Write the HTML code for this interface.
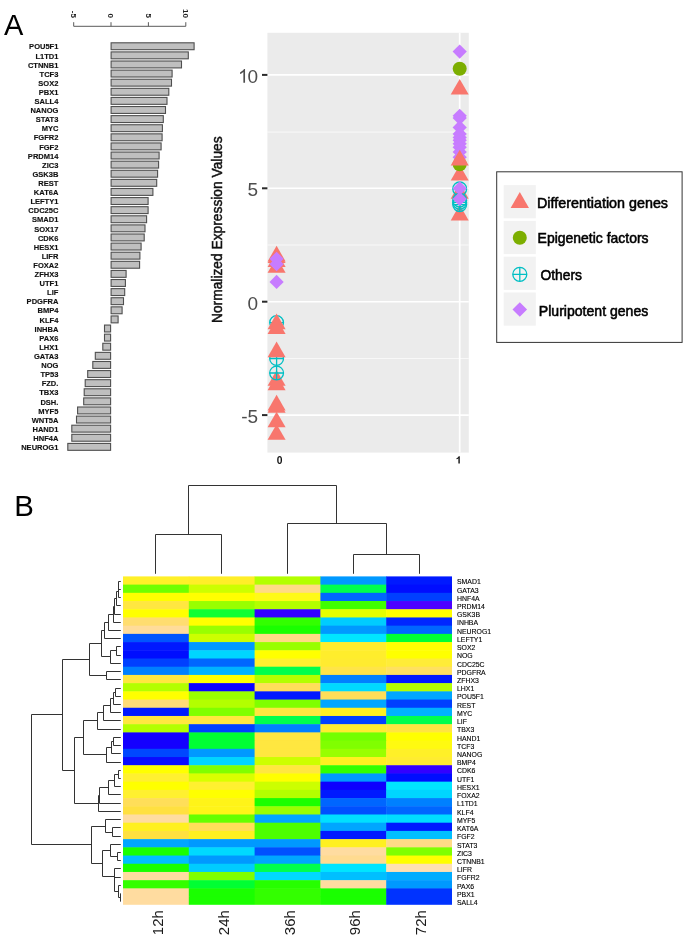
<!DOCTYPE html>
<html><head><meta charset="utf-8"><title>Figure</title>
<style>html,body{margin:0;padding:0;background:#fff}svg{display:block;will-change:transform}text{font-family:"Liberation Sans", sans-serif}</style>
</head><body>
<svg width="685" height="942" viewBox="0 0 685 942" font-family='"Liberation Sans", sans-serif'>
<rect width="685" height="942" fill="#fff"/>
<text x="3.9" y="35" font-size="29" fill="#000">A</text>
<text x="14.2" y="515.8" font-size="29.4" fill="#000">B</text>
<g id="bars">
<path d="M73.7 26.3H185.8 M73.7 26.3V22.2 M111 26.3V22.2 M148.4 26.3V22.2 M185.8 26.3V22.2" stroke="#5a5a5a" stroke-width="1" fill="none"/>
<text transform="translate(70.8 17.9) rotate(90)" text-anchor="end" font-size="8" font-weight="bold" fill="#222">-5</text>
<text transform="translate(108.1 17.9) rotate(90)" text-anchor="end" font-size="8" font-weight="bold" fill="#222">0</text>
<text transform="translate(145.5 17.9) rotate(90)" text-anchor="end" font-size="8" font-weight="bold" fill="#222">5</text>
<text transform="translate(182.9 17.9) rotate(90)" text-anchor="end" font-size="8" font-weight="bold" fill="#222">10</text>
<rect x="111.10" y="42.80" width="83.00" height="6.90" fill="#BFBFBF" stroke="#4f4f4f" stroke-width="1.1"/>
<text transform="translate(58.4 49.40) scale(0.93 1)" text-anchor="end" font-size="8.1" font-weight="bold" fill="#111" stroke="#111" stroke-width="0.15">POU5F1</text>
<rect x="111.10" y="51.91" width="77.20" height="6.90" fill="#BFBFBF" stroke="#4f4f4f" stroke-width="1.1"/>
<text transform="translate(58.4 58.51) scale(0.93 1)" text-anchor="end" font-size="8.1" font-weight="bold" fill="#111" stroke="#111" stroke-width="0.15">L1TD1</text>
<rect x="111.10" y="61.01" width="70.40" height="6.90" fill="#BFBFBF" stroke="#4f4f4f" stroke-width="1.1"/>
<text transform="translate(58.4 67.61) scale(0.93 1)" text-anchor="end" font-size="8.1" font-weight="bold" fill="#111" stroke="#111" stroke-width="0.15">CTNNB1</text>
<rect x="111.10" y="70.11" width="61.00" height="6.90" fill="#BFBFBF" stroke="#4f4f4f" stroke-width="1.1"/>
<text transform="translate(58.4 76.71) scale(0.93 1)" text-anchor="end" font-size="8.1" font-weight="bold" fill="#111" stroke="#111" stroke-width="0.15">TCF3</text>
<rect x="111.10" y="79.22" width="60.40" height="6.90" fill="#BFBFBF" stroke="#4f4f4f" stroke-width="1.1"/>
<text transform="translate(58.4 85.82) scale(0.93 1)" text-anchor="end" font-size="8.1" font-weight="bold" fill="#111" stroke="#111" stroke-width="0.15">SOX2</text>
<rect x="111.10" y="88.33" width="57.70" height="6.90" fill="#BFBFBF" stroke="#4f4f4f" stroke-width="1.1"/>
<text transform="translate(58.4 94.92) scale(0.93 1)" text-anchor="end" font-size="8.1" font-weight="bold" fill="#111" stroke="#111" stroke-width="0.15">PBX1</text>
<rect x="111.10" y="97.43" width="55.90" height="6.90" fill="#BFBFBF" stroke="#4f4f4f" stroke-width="1.1"/>
<text transform="translate(58.4 104.03) scale(0.93 1)" text-anchor="end" font-size="8.1" font-weight="bold" fill="#111" stroke="#111" stroke-width="0.15">SALL4</text>
<rect x="111.10" y="106.53" width="54.40" height="6.90" fill="#BFBFBF" stroke="#4f4f4f" stroke-width="1.1"/>
<text transform="translate(58.4 113.13) scale(0.93 1)" text-anchor="end" font-size="8.1" font-weight="bold" fill="#111" stroke="#111" stroke-width="0.15">NANOG</text>
<rect x="111.10" y="115.64" width="52.20" height="6.90" fill="#BFBFBF" stroke="#4f4f4f" stroke-width="1.1"/>
<text transform="translate(58.4 122.24) scale(0.93 1)" text-anchor="end" font-size="8.1" font-weight="bold" fill="#111" stroke="#111" stroke-width="0.15">STAT3</text>
<rect x="111.10" y="124.75" width="51.30" height="6.90" fill="#BFBFBF" stroke="#4f4f4f" stroke-width="1.1"/>
<text transform="translate(58.4 131.34) scale(0.93 1)" text-anchor="end" font-size="8.1" font-weight="bold" fill="#111" stroke="#111" stroke-width="0.15">MYC</text>
<rect x="111.10" y="133.85" width="51.00" height="6.90" fill="#BFBFBF" stroke="#4f4f4f" stroke-width="1.1"/>
<text transform="translate(58.4 140.45) scale(0.93 1)" text-anchor="end" font-size="8.1" font-weight="bold" fill="#111" stroke="#111" stroke-width="0.15">FGFR2</text>
<rect x="111.10" y="142.95" width="50.00" height="6.90" fill="#BFBFBF" stroke="#4f4f4f" stroke-width="1.1"/>
<text transform="translate(58.4 149.55) scale(0.93 1)" text-anchor="end" font-size="8.1" font-weight="bold" fill="#111" stroke="#111" stroke-width="0.15">FGF2</text>
<rect x="111.10" y="152.06" width="48.00" height="6.90" fill="#BFBFBF" stroke="#4f4f4f" stroke-width="1.1"/>
<text transform="translate(58.4 158.66) scale(0.93 1)" text-anchor="end" font-size="8.1" font-weight="bold" fill="#111" stroke="#111" stroke-width="0.15">PRDM14</text>
<rect x="111.10" y="161.17" width="47.50" height="6.90" fill="#BFBFBF" stroke="#4f4f4f" stroke-width="1.1"/>
<text transform="translate(58.4 167.77) scale(0.93 1)" text-anchor="end" font-size="8.1" font-weight="bold" fill="#111" stroke="#111" stroke-width="0.15">ZIC3</text>
<rect x="111.10" y="170.27" width="46.50" height="6.90" fill="#BFBFBF" stroke="#4f4f4f" stroke-width="1.1"/>
<text transform="translate(58.4 176.87) scale(0.93 1)" text-anchor="end" font-size="8.1" font-weight="bold" fill="#111" stroke="#111" stroke-width="0.15">GSK3B</text>
<rect x="111.10" y="179.38" width="45.60" height="6.90" fill="#BFBFBF" stroke="#4f4f4f" stroke-width="1.1"/>
<text transform="translate(58.4 185.97) scale(0.93 1)" text-anchor="end" font-size="8.1" font-weight="bold" fill="#111" stroke="#111" stroke-width="0.15">REST</text>
<rect x="111.10" y="188.48" width="41.80" height="6.90" fill="#BFBFBF" stroke="#4f4f4f" stroke-width="1.1"/>
<text transform="translate(58.4 195.08) scale(0.93 1)" text-anchor="end" font-size="8.1" font-weight="bold" fill="#111" stroke="#111" stroke-width="0.15">KAT6A</text>
<rect x="111.10" y="197.58" width="37.00" height="6.90" fill="#BFBFBF" stroke="#4f4f4f" stroke-width="1.1"/>
<text transform="translate(58.4 204.18) scale(0.93 1)" text-anchor="end" font-size="8.1" font-weight="bold" fill="#111" stroke="#111" stroke-width="0.15">LEFTY1</text>
<rect x="111.10" y="206.69" width="37.00" height="6.90" fill="#BFBFBF" stroke="#4f4f4f" stroke-width="1.1"/>
<text transform="translate(58.4 213.29) scale(0.93 1)" text-anchor="end" font-size="8.1" font-weight="bold" fill="#111" stroke="#111" stroke-width="0.15">CDC25C</text>
<rect x="111.10" y="215.80" width="35.50" height="6.90" fill="#BFBFBF" stroke="#4f4f4f" stroke-width="1.1"/>
<text transform="translate(58.4 222.40) scale(0.93 1)" text-anchor="end" font-size="8.1" font-weight="bold" fill="#111" stroke="#111" stroke-width="0.15">SMAD1</text>
<rect x="111.10" y="224.90" width="33.90" height="6.90" fill="#BFBFBF" stroke="#4f4f4f" stroke-width="1.1"/>
<text transform="translate(58.4 231.50) scale(0.93 1)" text-anchor="end" font-size="8.1" font-weight="bold" fill="#111" stroke="#111" stroke-width="0.15">SOX17</text>
<rect x="111.10" y="234.00" width="33.10" height="6.90" fill="#BFBFBF" stroke="#4f4f4f" stroke-width="1.1"/>
<text transform="translate(58.4 240.60) scale(0.93 1)" text-anchor="end" font-size="8.1" font-weight="bold" fill="#111" stroke="#111" stroke-width="0.15">CDK6</text>
<rect x="111.10" y="243.11" width="30.00" height="6.90" fill="#BFBFBF" stroke="#4f4f4f" stroke-width="1.1"/>
<text transform="translate(58.4 249.71) scale(0.93 1)" text-anchor="end" font-size="8.1" font-weight="bold" fill="#111" stroke="#111" stroke-width="0.15">HESX1</text>
<rect x="111.10" y="252.22" width="28.80" height="6.90" fill="#BFBFBF" stroke="#4f4f4f" stroke-width="1.1"/>
<text transform="translate(58.4 258.82) scale(0.93 1)" text-anchor="end" font-size="8.1" font-weight="bold" fill="#111" stroke="#111" stroke-width="0.15">LIFR</text>
<rect x="111.10" y="261.32" width="28.50" height="6.90" fill="#BFBFBF" stroke="#4f4f4f" stroke-width="1.1"/>
<text transform="translate(58.4 267.92) scale(0.93 1)" text-anchor="end" font-size="8.1" font-weight="bold" fill="#111" stroke="#111" stroke-width="0.15">FOXA2</text>
<rect x="111.10" y="270.43" width="15.00" height="6.90" fill="#BFBFBF" stroke="#4f4f4f" stroke-width="1.1"/>
<text transform="translate(58.4 277.03) scale(0.93 1)" text-anchor="end" font-size="8.1" font-weight="bold" fill="#111" stroke="#111" stroke-width="0.15">ZFHX3</text>
<rect x="111.10" y="279.53" width="14.30" height="6.90" fill="#BFBFBF" stroke="#4f4f4f" stroke-width="1.1"/>
<text transform="translate(58.4 286.13) scale(0.93 1)" text-anchor="end" font-size="8.1" font-weight="bold" fill="#111" stroke="#111" stroke-width="0.15">UTF1</text>
<rect x="111.10" y="288.63" width="13.60" height="6.90" fill="#BFBFBF" stroke="#4f4f4f" stroke-width="1.1"/>
<text transform="translate(58.4 295.24) scale(0.93 1)" text-anchor="end" font-size="8.1" font-weight="bold" fill="#111" stroke="#111" stroke-width="0.15">LIF</text>
<rect x="111.10" y="297.74" width="12.40" height="6.90" fill="#BFBFBF" stroke="#4f4f4f" stroke-width="1.1"/>
<text transform="translate(58.4 304.34) scale(0.93 1)" text-anchor="end" font-size="8.1" font-weight="bold" fill="#111" stroke="#111" stroke-width="0.15">PDGFRA</text>
<rect x="111.10" y="306.85" width="11.00" height="6.90" fill="#BFBFBF" stroke="#4f4f4f" stroke-width="1.1"/>
<text transform="translate(58.4 313.45) scale(0.93 1)" text-anchor="end" font-size="8.1" font-weight="bold" fill="#111" stroke="#111" stroke-width="0.15">BMP4</text>
<rect x="111.10" y="315.95" width="7.00" height="6.90" fill="#BFBFBF" stroke="#4f4f4f" stroke-width="1.1"/>
<text transform="translate(58.4 322.55) scale(0.93 1)" text-anchor="end" font-size="8.1" font-weight="bold" fill="#111" stroke="#111" stroke-width="0.15">KLF4</text>
<rect x="104.50" y="325.06" width="6.10" height="6.90" fill="#BFBFBF" stroke="#4f4f4f" stroke-width="1.1"/>
<text transform="translate(58.4 331.66) scale(0.93 1)" text-anchor="end" font-size="8.1" font-weight="bold" fill="#111" stroke="#111" stroke-width="0.15">INHBA</text>
<rect x="104.50" y="334.16" width="6.10" height="6.90" fill="#BFBFBF" stroke="#4f4f4f" stroke-width="1.1"/>
<text transform="translate(58.4 340.76) scale(0.93 1)" text-anchor="end" font-size="8.1" font-weight="bold" fill="#111" stroke="#111" stroke-width="0.15">PAX6</text>
<rect x="102.80" y="343.27" width="7.80" height="6.90" fill="#BFBFBF" stroke="#4f4f4f" stroke-width="1.1"/>
<text transform="translate(58.4 349.87) scale(0.93 1)" text-anchor="end" font-size="8.1" font-weight="bold" fill="#111" stroke="#111" stroke-width="0.15">LHX1</text>
<rect x="95.30" y="352.37" width="15.30" height="6.90" fill="#BFBFBF" stroke="#4f4f4f" stroke-width="1.1"/>
<text transform="translate(58.4 358.97) scale(0.93 1)" text-anchor="end" font-size="8.1" font-weight="bold" fill="#111" stroke="#111" stroke-width="0.15">GATA3</text>
<rect x="92.80" y="361.48" width="17.80" height="6.90" fill="#BFBFBF" stroke="#4f4f4f" stroke-width="1.1"/>
<text transform="translate(58.4 368.08) scale(0.93 1)" text-anchor="end" font-size="8.1" font-weight="bold" fill="#111" stroke="#111" stroke-width="0.15">NOG</text>
<rect x="87.70" y="370.58" width="22.90" height="6.90" fill="#BFBFBF" stroke="#4f4f4f" stroke-width="1.1"/>
<text transform="translate(58.4 377.18) scale(0.93 1)" text-anchor="end" font-size="8.1" font-weight="bold" fill="#111" stroke="#111" stroke-width="0.15">TP53</text>
<rect x="85.20" y="379.69" width="25.40" height="6.90" fill="#BFBFBF" stroke="#4f4f4f" stroke-width="1.1"/>
<text transform="translate(58.4 386.29) scale(0.93 1)" text-anchor="end" font-size="8.1" font-weight="bold" fill="#111" stroke="#111" stroke-width="0.15">FZD.</text>
<rect x="84.20" y="388.79" width="26.40" height="6.90" fill="#BFBFBF" stroke="#4f4f4f" stroke-width="1.1"/>
<text transform="translate(58.4 395.39) scale(0.93 1)" text-anchor="end" font-size="8.1" font-weight="bold" fill="#111" stroke="#111" stroke-width="0.15">TBX3</text>
<rect x="83.70" y="397.90" width="26.90" height="6.90" fill="#BFBFBF" stroke="#4f4f4f" stroke-width="1.1"/>
<text transform="translate(58.4 404.50) scale(0.93 1)" text-anchor="end" font-size="8.1" font-weight="bold" fill="#111" stroke="#111" stroke-width="0.15">DSH.</text>
<rect x="77.60" y="407.00" width="33.00" height="6.90" fill="#BFBFBF" stroke="#4f4f4f" stroke-width="1.1"/>
<text transform="translate(58.4 413.60) scale(0.93 1)" text-anchor="end" font-size="8.1" font-weight="bold" fill="#111" stroke="#111" stroke-width="0.15">MYF5</text>
<rect x="76.50" y="416.11" width="34.10" height="6.90" fill="#BFBFBF" stroke="#4f4f4f" stroke-width="1.1"/>
<text transform="translate(58.4 422.71) scale(0.93 1)" text-anchor="end" font-size="8.1" font-weight="bold" fill="#111" stroke="#111" stroke-width="0.15">WNT5A</text>
<rect x="71.80" y="425.21" width="38.80" height="6.90" fill="#BFBFBF" stroke="#4f4f4f" stroke-width="1.1"/>
<text transform="translate(58.4 431.81) scale(0.93 1)" text-anchor="end" font-size="8.1" font-weight="bold" fill="#111" stroke="#111" stroke-width="0.15">HAND1</text>
<rect x="71.80" y="434.32" width="38.80" height="6.90" fill="#BFBFBF" stroke="#4f4f4f" stroke-width="1.1"/>
<text transform="translate(58.4 440.92) scale(0.93 1)" text-anchor="end" font-size="8.1" font-weight="bold" fill="#111" stroke="#111" stroke-width="0.15">HNF4A</text>
<rect x="67.80" y="443.42" width="42.80" height="6.90" fill="#BFBFBF" stroke="#4f4f4f" stroke-width="1.1"/>
<text transform="translate(58.4 450.02) scale(0.93 1)" text-anchor="end" font-size="8.1" font-weight="bold" fill="#111" stroke="#111" stroke-width="0.15">NEUROG1</text>
</g>
<g id="scatter">
<rect x="267.4" y="32.8" width="201.40" height="419.80" fill="#EBEBEB"/>
<path d="M267.4 132.05H468.8" stroke="#fff" stroke-width="0.8" opacity="0.9"/>
<path d="M267.4 245.00H468.8" stroke="#fff" stroke-width="0.8" opacity="0.9"/>
<path d="M267.4 358.40H468.8" stroke="#fff" stroke-width="0.8" opacity="0.9"/>
<path d="M267.4 74.90H468.8" stroke="#fff" stroke-width="1.6"/>
<path d="M267.4 188.30H468.8" stroke="#fff" stroke-width="1.6"/>
<path d="M267.4 301.70H468.8" stroke="#fff" stroke-width="1.6"/>
<path d="M267.4 415.10H468.8" stroke="#fff" stroke-width="1.6"/>
<path d="M459.7 32.8V452.6" stroke="#fff" stroke-width="1.7"/>
<path d="M262.0 74.90H267.4" stroke="#2a2a2a" stroke-width="2"/>
<text x="258.2" y="82.70" text-anchor="end" font-size="19" fill="#4D4D4D">0</text>
<path d="M245.04 82.70L243.37 82.70L243.37 72.06Q242.77 72.63 241.79 73.21Q240.81 73.78 240.04 74.07L240.04 72.46Q241.44 71.80 242.48 70.86Q243.53 69.93 243.97 69.04L245.04 69.04Z" fill="#4D4D4D"/>
<path d="M262.0 188.30H267.4" stroke="#2a2a2a" stroke-width="2"/>
<text x="258.2" y="196.10" text-anchor="end" font-size="19" fill="#4D4D4D">5</text>
<path d="M262.0 301.70H267.4" stroke="#2a2a2a" stroke-width="2"/>
<text x="258.2" y="309.50" text-anchor="end" font-size="19" fill="#4D4D4D">0</text>
<path d="M262.0 415.10H267.4" stroke="#2a2a2a" stroke-width="2"/>
<text x="258.2" y="422.90" text-anchor="end" font-size="19" fill="#4D4D4D">-5</text>
<text x="279.6" y="463.6" text-anchor="middle" font-size="10.3" font-weight="bold" fill="#111">0</text>
<path d="M459.79 463.60L458.38 463.60L458.38 458.27Q457.60 459.00 456.55 459.35L456.55 458.06Q457.10 457.88 457.75 457.38Q458.40 456.87 458.64 456.20L459.79 456.20Z" fill="#111"/>
<text transform="translate(221.8 323.0) rotate(-90)" font-size="14.2" fill="#111" stroke="#111" stroke-width="0.5" textLength="186.6" lengthAdjust="spacingAndGlyphs">Normalized Expression Values</text>
<g stroke="#00BFC4" stroke-width="1.3" fill="none"><circle cx="276.60" cy="322.60" r="6.9"/><path d="M269.70 322.60H283.50M276.60 315.70V329.50"/></g>
<path d="M276.60 313.60L285.61 329.20L267.59 329.20Z" fill="#F8766D"/>
<path d="M276.60 318.30L285.61 333.90L267.59 333.90Z" fill="#F8766D"/>
<g stroke="#00BFC4" stroke-width="1.3" fill="none"><circle cx="276.60" cy="358.50" r="6.9"/><path d="M269.70 358.50H283.50M276.60 351.60V365.40"/></g>
<path d="M276.60 341.60L285.61 357.20L267.59 357.20Z" fill="#F8766D"/>
<path d="M276.60 370.20L285.61 385.80L267.59 385.80Z" fill="#F8766D"/>
<path d="M276.60 374.60L285.61 390.20L267.59 390.20Z" fill="#F8766D"/>
<g stroke="#00BFC4" stroke-width="1.3" fill="none"><circle cx="276.60" cy="373.00" r="6.9"/><path d="M269.70 373.00H283.50M276.60 366.10V379.90"/></g>
<path d="M276.60 394.80L285.61 410.40L267.59 410.40Z" fill="#F8766D"/>
<path d="M276.60 397.10L285.61 412.70L267.59 412.70Z" fill="#F8766D"/>
<path d="M276.60 411.70L285.61 427.30L267.59 427.30Z" fill="#F8766D"/>
<path d="M276.60 424.20L285.61 439.80L267.59 439.80Z" fill="#F8766D"/>
<path d="M276.60 245.80L285.61 261.40L267.59 261.40Z" fill="#F8766D"/>
<path d="M276.60 247.40L285.61 263.00L267.59 263.00Z" fill="#F8766D"/>
<path d="M276.60 251.30L285.61 266.90L267.59 266.90Z" fill="#F8766D"/>
<path d="M276.60 257.20L285.61 272.80L267.59 272.80Z" fill="#F8766D"/>
<path d="M276.60 251.70L283.70 258.80L276.60 265.90L269.50 258.80Z" fill="#C77CFF"/>
<path d="M276.60 257.10L283.70 264.20L276.60 271.30L269.50 264.20Z" fill="#C77CFF"/>
<path d="M276.60 274.80L283.70 281.90L276.60 289.00L269.50 281.90Z" fill="#C77CFF"/>
<path d="M459.70 44.50L466.80 51.60L459.70 58.70L452.60 51.60Z" fill="#C77CFF"/>
<circle cx="459.70" cy="68.80" r="7.0" fill="#7CAE00"/>
<path d="M459.70 79.00L468.71 94.60L450.69 94.60Z" fill="#F8766D"/>
<path d="M459.70 204.80L468.71 220.40L450.69 220.40Z" fill="#F8766D"/>
<path d="M459.70 183.10L468.71 198.70L450.69 198.70Z" fill="#F8766D"/>
<g stroke="#00BFC4" stroke-width="1.3" fill="none"><circle cx="459.70" cy="188.90" r="6.9"/><path d="M452.80 188.90H466.60M459.70 182.00V195.80"/></g>
<g stroke="#00BFC4" stroke-width="1.3" fill="none"><circle cx="459.70" cy="200.20" r="6.9"/><path d="M452.80 200.20H466.60M459.70 193.30V207.10"/></g>
<g stroke="#00BFC4" stroke-width="1.3" fill="none"><circle cx="459.70" cy="202.40" r="6.9"/><path d="M452.80 202.40H466.60M459.70 195.50V209.30"/></g>
<g stroke="#00BFC4" stroke-width="1.3" fill="none"><circle cx="459.70" cy="204.60" r="6.9"/><path d="M452.80 204.60H466.60M459.70 197.70V211.50"/></g>
<path d="M459.70 181.30L466.80 188.40L459.70 195.50L452.60 188.40Z" fill="#C77CFF"/>
<path d="M459.70 191.80L466.80 198.90L459.70 206.00L452.60 198.90Z" fill="#C77CFF"/>
<path d="M459.70 165.00L468.71 180.60L450.69 180.60Z" fill="#F8766D"/>
<circle cx="459.70" cy="164.20" r="7.0" fill="#7CAE00"/>
<path d="M459.70 108.70L466.80 115.80L459.70 122.90L452.60 115.80Z" fill="#C77CFF"/>
<path d="M459.70 111.00L466.80 118.10L459.70 125.20L452.60 118.10Z" fill="#C77CFF"/>
<path d="M459.70 120.30L466.80 127.40L459.70 134.50L452.60 127.40Z" fill="#C77CFF"/>
<path d="M459.70 126.80L466.80 133.90L459.70 141.00L452.60 133.90Z" fill="#C77CFF"/>
<path d="M459.70 130.30L466.80 137.40L459.70 144.50L452.60 137.40Z" fill="#C77CFF"/>
<path d="M459.70 133.20L466.80 140.30L459.70 147.40L452.60 140.30Z" fill="#C77CFF"/>
<path d="M459.70 136.70L466.80 143.80L459.70 150.90L452.60 143.80Z" fill="#C77CFF"/>
<path d="M459.70 140.20L466.80 147.30L459.70 154.40L452.60 147.30Z" fill="#C77CFF"/>
<path d="M459.70 144.90L466.80 152.00L459.70 159.10L452.60 152.00Z" fill="#C77CFF"/>
<path d="M459.70 150.10L466.80 157.20L459.70 164.30L452.60 157.20Z" fill="#C77CFF"/>
<path d="M459.70 149.80L468.71 165.40L450.69 165.40Z" fill="#F8766D"/>
</g>
<g id="legend">
<rect x="496.7" y="171.8" width="185.4" height="170.6" fill="#fff" stroke="#333" stroke-width="1"/>
<rect x="503.7" y="185.1" width="32.1" height="33.2" fill="#F2F2F2"/>
<rect x="503.7" y="220.9" width="32.1" height="33.2" fill="#F2F2F2"/>
<rect x="503.7" y="256.7" width="32.1" height="33.2" fill="#F2F2F2"/>
<rect x="503.7" y="292.5" width="32.1" height="33.2" fill="#F2F2F2"/>
<path d="M519.80 192.00L528.98 207.90L510.62 207.90Z" fill="#F8766D"/>
<circle cx="519.80" cy="237.70" r="7.0" fill="#7CAE00"/>
<g stroke="#00BFC4" stroke-width="1.3" fill="none"><circle cx="519.80" cy="274.30" r="7.0"/><path d="M512.80 274.30H526.80M519.80 267.30V281.30"/></g>
<path d="M519.80 302.20L527.10 309.50L519.80 316.80L512.50 309.50Z" fill="#C77CFF"/>
<text x="537.0" y="207.9" font-size="14.3" fill="#000" stroke="#000" stroke-width="0.55" textLength="131.0" lengthAdjust="spacingAndGlyphs">Differentiation genes</text>
<text x="537.6" y="243.4" font-size="14.3" fill="#000" stroke="#000" stroke-width="0.55" textLength="111.0" lengthAdjust="spacingAndGlyphs">Epigenetic factors</text>
<text x="540.4" y="279.6" font-size="14.3" fill="#000" stroke="#000" stroke-width="0.55" textLength="41.6" lengthAdjust="spacingAndGlyphs">Others</text>
<text x="538.8" y="316.0" font-size="14.3" fill="#000" stroke="#000" stroke-width="0.55" textLength="109.5" lengthAdjust="spacingAndGlyphs">Pluripotent genes</text>
</g>
<g id="heat">
<rect x="123.00" y="576.40" width="66.30" height="8.71" fill="#FFF028"/>
<rect x="188.80" y="576.40" width="66.30" height="8.71" fill="#FFEE28"/>
<rect x="254.60" y="576.40" width="66.30" height="8.71" fill="#B3FF00"/>
<rect x="320.40" y="576.40" width="66.30" height="8.71" fill="#0099FF"/>
<rect x="386.20" y="576.40" width="66.30" height="8.71" fill="#0019FF"/>
<rect x="123.00" y="584.61" width="66.30" height="8.71" fill="#70FF00"/>
<rect x="188.80" y="584.61" width="66.30" height="8.71" fill="#CCFF00"/>
<rect x="254.60" y="584.61" width="66.30" height="8.71" fill="#FFDB86"/>
<rect x="320.40" y="584.61" width="66.30" height="8.71" fill="#00FF4D"/>
<rect x="386.20" y="584.61" width="66.30" height="8.71" fill="#000DFF"/>
<rect x="123.00" y="592.82" width="66.30" height="8.71" fill="#FFFF00"/>
<rect x="188.80" y="592.82" width="66.30" height="8.71" fill="#FFFF00"/>
<rect x="254.60" y="592.82" width="66.30" height="8.71" fill="#FFFA18"/>
<rect x="320.40" y="592.82" width="66.30" height="8.71" fill="#0066FF"/>
<rect x="386.20" y="592.82" width="66.30" height="8.71" fill="#0040FF"/>
<rect x="123.00" y="601.03" width="66.30" height="8.71" fill="#FFE740"/>
<rect x="188.80" y="601.03" width="66.30" height="8.71" fill="#99FF00"/>
<rect x="254.60" y="601.03" width="66.30" height="8.71" fill="#B3FF00"/>
<rect x="320.40" y="601.03" width="66.30" height="8.71" fill="#40FF00"/>
<rect x="386.20" y="601.03" width="66.30" height="8.71" fill="#4C00FF"/>
<rect x="123.00" y="609.24" width="66.30" height="8.71" fill="#FFFF00"/>
<rect x="188.80" y="609.24" width="66.30" height="8.71" fill="#0DFF33"/>
<rect x="254.60" y="609.24" width="66.30" height="8.71" fill="#3300FF"/>
<rect x="320.40" y="609.24" width="66.30" height="8.71" fill="#E6FF00"/>
<rect x="386.20" y="609.24" width="66.30" height="8.71" fill="#FFFF00"/>
<rect x="123.00" y="617.45" width="66.30" height="8.71" fill="#FFDD70"/>
<rect x="188.80" y="617.45" width="66.30" height="8.71" fill="#FFFF00"/>
<rect x="254.60" y="617.45" width="66.30" height="8.71" fill="#33FF00"/>
<rect x="320.40" y="617.45" width="66.30" height="8.71" fill="#00CCFF"/>
<rect x="386.20" y="617.45" width="66.30" height="8.71" fill="#0026FF"/>
<rect x="123.00" y="625.66" width="66.30" height="8.71" fill="#FFDC9A"/>
<rect x="188.80" y="625.66" width="66.30" height="8.71" fill="#99FF00"/>
<rect x="254.60" y="625.66" width="66.30" height="8.71" fill="#1AFF00"/>
<rect x="320.40" y="625.66" width="66.30" height="8.71" fill="#0099FF"/>
<rect x="386.20" y="625.66" width="66.30" height="8.71" fill="#0066FF"/>
<rect x="123.00" y="633.87" width="66.30" height="8.71" fill="#0055FF"/>
<rect x="188.80" y="633.87" width="66.30" height="8.71" fill="#CCFF00"/>
<rect x="254.60" y="633.87" width="66.30" height="8.71" fill="#FFDB86"/>
<rect x="320.40" y="633.87" width="66.30" height="8.71" fill="#00E5FF"/>
<rect x="386.20" y="633.87" width="66.30" height="8.71" fill="#00FF33"/>
<rect x="123.00" y="642.08" width="66.30" height="8.71" fill="#0019FF"/>
<rect x="188.80" y="642.08" width="66.30" height="8.71" fill="#0099FF"/>
<rect x="254.60" y="642.08" width="66.30" height="8.71" fill="#99FF00"/>
<rect x="320.40" y="642.08" width="66.30" height="8.71" fill="#FFED2C"/>
<rect x="386.20" y="642.08" width="66.30" height="8.71" fill="#FFFF00"/>
<rect x="123.00" y="650.29" width="66.30" height="8.71" fill="#000DFF"/>
<rect x="188.80" y="650.29" width="66.30" height="8.71" fill="#00D5FF"/>
<rect x="254.60" y="650.29" width="66.30" height="8.71" fill="#FFFF00"/>
<rect x="320.40" y="650.29" width="66.30" height="8.71" fill="#FFED2C"/>
<rect x="386.20" y="650.29" width="66.30" height="8.71" fill="#FFFF00"/>
<rect x="123.00" y="658.50" width="66.30" height="8.71" fill="#0040FF"/>
<rect x="188.80" y="658.50" width="66.30" height="8.71" fill="#0066FF"/>
<rect x="254.60" y="658.50" width="66.30" height="8.71" fill="#FFF030"/>
<rect x="320.40" y="658.50" width="66.30" height="8.71" fill="#FFEB30"/>
<rect x="386.20" y="658.50" width="66.30" height="8.71" fill="#FFEC38"/>
<rect x="123.00" y="666.71" width="66.30" height="8.71" fill="#0080FF"/>
<rect x="188.80" y="666.71" width="66.30" height="8.71" fill="#00B2FF"/>
<rect x="254.60" y="666.71" width="66.30" height="8.71" fill="#00FF4D"/>
<rect x="320.40" y="666.71" width="66.30" height="8.71" fill="#FFE448"/>
<rect x="386.20" y="666.71" width="66.30" height="8.71" fill="#FFE060"/>
<rect x="123.00" y="674.92" width="66.30" height="8.71" fill="#FFE740"/>
<rect x="188.80" y="674.92" width="66.30" height="8.71" fill="#FFFF00"/>
<rect x="254.60" y="674.92" width="66.30" height="8.71" fill="#B3FF00"/>
<rect x="320.40" y="674.92" width="66.30" height="8.71" fill="#0080FF"/>
<rect x="386.20" y="674.92" width="66.30" height="8.71" fill="#0019FF"/>
<rect x="123.00" y="683.13" width="66.30" height="8.71" fill="#B3FF00"/>
<rect x="188.80" y="683.13" width="66.30" height="8.71" fill="#0D00FF"/>
<rect x="254.60" y="683.13" width="66.30" height="8.71" fill="#FFDE59"/>
<rect x="320.40" y="683.13" width="66.30" height="8.71" fill="#00D9FF"/>
<rect x="386.20" y="683.13" width="66.30" height="8.71" fill="#B3FF00"/>
<rect x="123.00" y="691.34" width="66.30" height="8.71" fill="#FFFF00"/>
<rect x="188.80" y="691.34" width="66.30" height="8.71" fill="#99FF00"/>
<rect x="254.60" y="691.34" width="66.30" height="8.71" fill="#0019FF"/>
<rect x="320.40" y="691.34" width="66.30" height="8.71" fill="#FFDE59"/>
<rect x="386.20" y="691.34" width="66.30" height="8.71" fill="#00A6FF"/>
<rect x="123.00" y="699.55" width="66.30" height="8.71" fill="#FFDC78"/>
<rect x="188.80" y="699.55" width="66.30" height="8.71" fill="#B3FF00"/>
<rect x="254.60" y="699.55" width="66.30" height="8.71" fill="#80FF00"/>
<rect x="320.40" y="699.55" width="66.30" height="8.71" fill="#00A6FF"/>
<rect x="386.20" y="699.55" width="66.30" height="8.71" fill="#0040FF"/>
<rect x="123.00" y="707.76" width="66.30" height="8.71" fill="#0019FF"/>
<rect x="188.80" y="707.76" width="66.30" height="8.71" fill="#80FF00"/>
<rect x="254.60" y="707.76" width="66.30" height="8.71" fill="#FFE740"/>
<rect x="320.40" y="707.76" width="66.30" height="8.71" fill="#FFF020"/>
<rect x="386.20" y="707.76" width="66.30" height="8.71" fill="#00B2FF"/>
<rect x="123.00" y="715.97" width="66.30" height="8.71" fill="#FFE740"/>
<rect x="188.80" y="715.97" width="66.30" height="8.71" fill="#FFE740"/>
<rect x="254.60" y="715.97" width="66.30" height="8.71" fill="#00FF4D"/>
<rect x="320.40" y="715.97" width="66.30" height="8.71" fill="#0040FF"/>
<rect x="386.20" y="715.97" width="66.30" height="8.71" fill="#00FF4D"/>
<rect x="123.00" y="724.18" width="66.30" height="8.71" fill="#B3FF00"/>
<rect x="188.80" y="724.18" width="66.30" height="8.71" fill="#0040FF"/>
<rect x="254.60" y="724.18" width="66.30" height="8.71" fill="#0080FF"/>
<rect x="320.40" y="724.18" width="66.30" height="8.71" fill="#FFEC30"/>
<rect x="386.20" y="724.18" width="66.30" height="8.71" fill="#FFE540"/>
<rect x="123.00" y="732.39" width="66.30" height="8.71" fill="#1400FF"/>
<rect x="188.80" y="732.39" width="66.30" height="8.71" fill="#00FF33"/>
<rect x="254.60" y="732.39" width="66.30" height="8.71" fill="#FFE740"/>
<rect x="320.40" y="732.39" width="66.30" height="8.71" fill="#73FF00"/>
<rect x="386.20" y="732.39" width="66.30" height="8.71" fill="#FFFF00"/>
<rect x="123.00" y="740.60" width="66.30" height="8.71" fill="#1400FF"/>
<rect x="188.80" y="740.60" width="66.30" height="8.71" fill="#00FF33"/>
<rect x="254.60" y="740.60" width="66.30" height="8.71" fill="#FFE740"/>
<rect x="320.40" y="740.60" width="66.30" height="8.71" fill="#80FF00"/>
<rect x="386.20" y="740.60" width="66.30" height="8.71" fill="#FFFA10"/>
<rect x="123.00" y="748.81" width="66.30" height="8.71" fill="#0048FF"/>
<rect x="188.80" y="748.81" width="66.30" height="8.71" fill="#0099FF"/>
<rect x="254.60" y="748.81" width="66.30" height="8.71" fill="#FFE740"/>
<rect x="320.40" y="748.81" width="66.30" height="8.71" fill="#99FF00"/>
<rect x="386.20" y="748.81" width="66.30" height="8.71" fill="#FFF028"/>
<rect x="123.00" y="757.02" width="66.30" height="8.71" fill="#0A0DFF"/>
<rect x="188.80" y="757.02" width="66.30" height="8.71" fill="#00D5FF"/>
<rect x="254.60" y="757.02" width="66.30" height="8.71" fill="#CCFF00"/>
<rect x="320.40" y="757.02" width="66.30" height="8.71" fill="#FFF020"/>
<rect x="386.20" y="757.02" width="66.30" height="8.71" fill="#FFEC30"/>
<rect x="123.00" y="765.23" width="66.30" height="8.71" fill="#FFFF00"/>
<rect x="188.80" y="765.23" width="66.30" height="8.71" fill="#80FF00"/>
<rect x="254.60" y="765.23" width="66.30" height="8.71" fill="#FFE740"/>
<rect x="320.40" y="765.23" width="66.30" height="8.71" fill="#33FF00"/>
<rect x="386.20" y="765.23" width="66.30" height="8.71" fill="#3300FF"/>
<rect x="123.00" y="773.44" width="66.30" height="8.71" fill="#FFF030"/>
<rect x="188.80" y="773.44" width="66.30" height="8.71" fill="#D9FF00"/>
<rect x="254.60" y="773.44" width="66.30" height="8.71" fill="#FFFF00"/>
<rect x="320.40" y="773.44" width="66.30" height="8.71" fill="#0099FF"/>
<rect x="386.20" y="773.44" width="66.30" height="8.71" fill="#000DFF"/>
<rect x="123.00" y="781.65" width="66.30" height="8.71" fill="#FFFF00"/>
<rect x="188.80" y="781.65" width="66.30" height="8.71" fill="#FFF030"/>
<rect x="254.60" y="781.65" width="66.30" height="8.71" fill="#CCFF00"/>
<rect x="320.40" y="781.65" width="66.30" height="8.71" fill="#0D00FF"/>
<rect x="386.20" y="781.65" width="66.30" height="8.71" fill="#00E5FF"/>
<rect x="123.00" y="789.86" width="66.30" height="8.71" fill="#FFF030"/>
<rect x="188.80" y="789.86" width="66.30" height="8.71" fill="#FFFF00"/>
<rect x="254.60" y="789.86" width="66.30" height="8.71" fill="#B3FF00"/>
<rect x="320.40" y="789.86" width="66.30" height="8.71" fill="#0019FF"/>
<rect x="386.20" y="789.86" width="66.30" height="8.71" fill="#00D5FF"/>
<rect x="123.00" y="798.07" width="66.30" height="8.71" fill="#FFDE59"/>
<rect x="188.80" y="798.07" width="66.30" height="8.71" fill="#FFF418"/>
<rect x="254.60" y="798.07" width="66.30" height="8.71" fill="#1AFF00"/>
<rect x="320.40" y="798.07" width="66.30" height="8.71" fill="#0066FF"/>
<rect x="386.20" y="798.07" width="66.30" height="8.71" fill="#0080FF"/>
<rect x="123.00" y="806.28" width="66.30" height="8.71" fill="#FFE040"/>
<rect x="188.80" y="806.28" width="66.30" height="8.71" fill="#FFF418"/>
<rect x="254.60" y="806.28" width="66.30" height="8.71" fill="#99FF00"/>
<rect x="320.40" y="806.28" width="66.30" height="8.71" fill="#0050FF"/>
<rect x="386.20" y="806.28" width="66.30" height="8.71" fill="#0066FF"/>
<rect x="123.00" y="814.49" width="66.30" height="8.71" fill="#FFDCA0"/>
<rect x="188.80" y="814.49" width="66.30" height="8.71" fill="#66FF00"/>
<rect x="254.60" y="814.49" width="66.30" height="8.71" fill="#00A6FF"/>
<rect x="320.40" y="814.49" width="66.30" height="8.71" fill="#00E0FF"/>
<rect x="386.20" y="814.49" width="66.30" height="8.71" fill="#00DDFF"/>
<rect x="123.00" y="822.70" width="66.30" height="8.71" fill="#FFF020"/>
<rect x="188.80" y="822.70" width="66.30" height="8.71" fill="#FFDE59"/>
<rect x="254.60" y="822.70" width="66.30" height="8.71" fill="#4DFF00"/>
<rect x="320.40" y="822.70" width="66.30" height="8.71" fill="#00A6FF"/>
<rect x="386.20" y="822.70" width="66.30" height="8.71" fill="#0019FF"/>
<rect x="123.00" y="830.91" width="66.30" height="8.71" fill="#FFE040"/>
<rect x="188.80" y="830.91" width="66.30" height="8.71" fill="#FFF020"/>
<rect x="254.60" y="830.91" width="66.30" height="8.71" fill="#4DFF00"/>
<rect x="320.40" y="830.91" width="66.30" height="8.71" fill="#0019FF"/>
<rect x="386.20" y="830.91" width="66.30" height="8.71" fill="#00BFFF"/>
<rect x="123.00" y="839.12" width="66.30" height="8.71" fill="#00A6FF"/>
<rect x="188.80" y="839.12" width="66.30" height="8.71" fill="#0099FF"/>
<rect x="254.60" y="839.12" width="66.30" height="8.71" fill="#0099FF"/>
<rect x="320.40" y="839.12" width="66.30" height="8.71" fill="#FFF020"/>
<rect x="386.20" y="839.12" width="66.30" height="8.71" fill="#FFDB86"/>
<rect x="123.00" y="847.33" width="66.30" height="8.71" fill="#1AFF00"/>
<rect x="188.80" y="847.33" width="66.30" height="8.71" fill="#00D9FF"/>
<rect x="254.60" y="847.33" width="66.30" height="8.71" fill="#0050FF"/>
<rect x="320.40" y="847.33" width="66.30" height="8.71" fill="#FFDCA0"/>
<rect x="386.20" y="847.33" width="66.30" height="8.71" fill="#80FF00"/>
<rect x="123.00" y="855.54" width="66.30" height="8.71" fill="#00BFFF"/>
<rect x="188.80" y="855.54" width="66.30" height="8.71" fill="#0099FF"/>
<rect x="254.60" y="855.54" width="66.30" height="8.71" fill="#00A6FF"/>
<rect x="320.40" y="855.54" width="66.30" height="8.71" fill="#FFDB90"/>
<rect x="386.20" y="855.54" width="66.30" height="8.71" fill="#FFFF00"/>
<rect x="123.00" y="863.75" width="66.30" height="8.71" fill="#1AFF00"/>
<rect x="188.80" y="863.75" width="66.30" height="8.71" fill="#00CCFF"/>
<rect x="254.60" y="863.75" width="66.30" height="8.71" fill="#00FF4D"/>
<rect x="320.40" y="863.75" width="66.30" height="8.71" fill="#00E5FF"/>
<rect x="386.20" y="863.75" width="66.30" height="8.71" fill="#FFE0B3"/>
<rect x="123.00" y="871.96" width="66.30" height="8.71" fill="#FFDCA0"/>
<rect x="188.80" y="871.96" width="66.30" height="8.71" fill="#80FF00"/>
<rect x="254.60" y="871.96" width="66.30" height="8.71" fill="#00D9FF"/>
<rect x="320.40" y="871.96" width="66.30" height="8.71" fill="#00BFFF"/>
<rect x="386.20" y="871.96" width="66.30" height="8.71" fill="#00ACFF"/>
<rect x="123.00" y="880.17" width="66.30" height="8.71" fill="#33FF00"/>
<rect x="188.80" y="880.17" width="66.30" height="8.71" fill="#00FF33"/>
<rect x="254.60" y="880.17" width="66.30" height="8.71" fill="#26FF00"/>
<rect x="320.40" y="880.17" width="66.30" height="8.71" fill="#FFDCA0"/>
<rect x="386.20" y="880.17" width="66.30" height="8.71" fill="#0099FF"/>
<rect x="123.00" y="888.38" width="66.30" height="8.71" fill="#FFDCA0"/>
<rect x="188.80" y="888.38" width="66.30" height="8.71" fill="#1AFF00"/>
<rect x="254.60" y="888.38" width="66.30" height="8.71" fill="#33FF00"/>
<rect x="320.40" y="888.38" width="66.30" height="8.71" fill="#1AFF00"/>
<rect x="386.20" y="888.38" width="66.30" height="8.71" fill="#0033FF"/>
<rect x="123.00" y="896.59" width="66.30" height="8.71" fill="#FFDCA0"/>
<rect x="188.80" y="896.59" width="66.30" height="8.71" fill="#1AFF00"/>
<rect x="254.60" y="896.59" width="66.30" height="8.71" fill="#33FF00"/>
<rect x="320.40" y="896.59" width="66.30" height="8.71" fill="#1AFF00"/>
<rect x="386.20" y="896.59" width="66.30" height="8.71" fill="#0033FF"/>
<rect x="452.0" y="575.4" width="3" height="332.4" fill="#fff"/>
<rect x="122.0" y="904.8" width="333.0" height="3" fill="#fff"/>
</g>
<g id="heatlab">
<text x="457.0" y="584.31" font-size="6.9" fill="#000" stroke="#000" stroke-width="0.12">SMAD1</text>
<text x="457.0" y="592.54" font-size="6.9" fill="#000" stroke="#000" stroke-width="0.12">GATA3</text>
<text x="457.0" y="600.76" font-size="6.9" fill="#000" stroke="#000" stroke-width="0.12">HNF4A</text>
<text x="457.0" y="608.99" font-size="6.9" fill="#000" stroke="#000" stroke-width="0.12">PRDM14</text>
<text x="457.0" y="617.21" font-size="6.9" fill="#000" stroke="#000" stroke-width="0.12">GSK3B</text>
<text x="457.0" y="625.44" font-size="6.9" fill="#000" stroke="#000" stroke-width="0.12">INHBA</text>
<text x="457.0" y="633.66" font-size="6.9" fill="#000" stroke="#000" stroke-width="0.12">NEUROG1</text>
<text x="457.0" y="641.89" font-size="6.9" fill="#000" stroke="#000" stroke-width="0.12">LEFTY1</text>
<text x="457.0" y="650.11" font-size="6.9" fill="#000" stroke="#000" stroke-width="0.12">SOX2</text>
<text x="457.0" y="658.34" font-size="6.9" fill="#000" stroke="#000" stroke-width="0.12">NOG</text>
<text x="457.0" y="666.56" font-size="6.9" fill="#000" stroke="#000" stroke-width="0.12">CDC25C</text>
<text x="457.0" y="674.79" font-size="6.9" fill="#000" stroke="#000" stroke-width="0.12">PDGFRA</text>
<text x="457.0" y="683.01" font-size="6.9" fill="#000" stroke="#000" stroke-width="0.12">ZFHX3</text>
<text x="457.0" y="691.24" font-size="6.9" fill="#000" stroke="#000" stroke-width="0.12">LHX1</text>
<text x="457.0" y="699.46" font-size="6.9" fill="#000" stroke="#000" stroke-width="0.12">POU5F1</text>
<text x="457.0" y="707.69" font-size="6.9" fill="#000" stroke="#000" stroke-width="0.12">REST</text>
<text x="457.0" y="715.91" font-size="6.9" fill="#000" stroke="#000" stroke-width="0.12">MYC</text>
<text x="457.0" y="724.14" font-size="6.9" fill="#000" stroke="#000" stroke-width="0.12">LIF</text>
<text x="457.0" y="732.36" font-size="6.9" fill="#000" stroke="#000" stroke-width="0.12">TBX3</text>
<text x="457.0" y="740.59" font-size="6.9" fill="#000" stroke="#000" stroke-width="0.12">HAND1</text>
<text x="457.0" y="748.81" font-size="6.9" fill="#000" stroke="#000" stroke-width="0.12">TCF3</text>
<text x="457.0" y="757.04" font-size="6.9" fill="#000" stroke="#000" stroke-width="0.12">NANOG</text>
<text x="457.0" y="765.26" font-size="6.9" fill="#000" stroke="#000" stroke-width="0.12">BMP4</text>
<text x="457.0" y="773.49" font-size="6.9" fill="#000" stroke="#000" stroke-width="0.12">CDK6</text>
<text x="457.0" y="781.71" font-size="6.9" fill="#000" stroke="#000" stroke-width="0.12">UTF1</text>
<text x="457.0" y="789.94" font-size="6.9" fill="#000" stroke="#000" stroke-width="0.12">HESX1</text>
<text x="457.0" y="798.16" font-size="6.9" fill="#000" stroke="#000" stroke-width="0.12">FOXA2</text>
<text x="457.0" y="806.39" font-size="6.9" fill="#000" stroke="#000" stroke-width="0.12">L1TD1</text>
<text x="457.0" y="814.61" font-size="6.9" fill="#000" stroke="#000" stroke-width="0.12">KLF4</text>
<text x="457.0" y="822.84" font-size="6.9" fill="#000" stroke="#000" stroke-width="0.12">MYF5</text>
<text x="457.0" y="831.06" font-size="6.9" fill="#000" stroke="#000" stroke-width="0.12">KAT6A</text>
<text x="457.0" y="839.29" font-size="6.9" fill="#000" stroke="#000" stroke-width="0.12">FGF2</text>
<text x="457.0" y="847.51" font-size="6.9" fill="#000" stroke="#000" stroke-width="0.12">STAT3</text>
<text x="457.0" y="855.74" font-size="6.9" fill="#000" stroke="#000" stroke-width="0.12">ZIC3</text>
<text x="457.0" y="863.96" font-size="6.9" fill="#000" stroke="#000" stroke-width="0.12">CTNNB1</text>
<text x="457.0" y="872.19" font-size="6.9" fill="#000" stroke="#000" stroke-width="0.12">LIFR</text>
<text x="457.0" y="880.41" font-size="6.9" fill="#000" stroke="#000" stroke-width="0.12">FGFR2</text>
<text x="457.0" y="888.64" font-size="6.9" fill="#000" stroke="#000" stroke-width="0.12">PAX6</text>
<text x="457.0" y="896.86" font-size="6.9" fill="#000" stroke="#000" stroke-width="0.12">PBX1</text>
<text x="457.0" y="905.09" font-size="6.9" fill="#000" stroke="#000" stroke-width="0.12">SALL4</text>
<text transform="translate(162.90 910.1) rotate(-90)" text-anchor="end" font-size="15" fill="#1a1a1a">12h</text>
<text transform="translate(228.70 910.1) rotate(-90)" text-anchor="end" font-size="15" fill="#1a1a1a">24h</text>
<text transform="translate(294.50 910.1) rotate(-90)" text-anchor="end" font-size="15" fill="#1a1a1a">36h</text>
<text transform="translate(360.30 910.1) rotate(-90)" text-anchor="end" font-size="15" fill="#1a1a1a">96h</text>
<text transform="translate(426.10 910.1) rotate(-90)" text-anchor="end" font-size="15" fill="#1a1a1a">72h</text>
</g>
<path d="M155.50 573.8V534.5H221.50V573.8 M353.50 573.8V554.5H419.50V573.8 M287.50 573.8V523.5H386.50V554.5 M188.50 534.5V485.5H336.50V523.5" stroke="#333" stroke-width="1" fill="none"/>
<path d="M120.80 581.50H118.50V589.50H120.80 M118.50 585.50H118.50V597.50H120.80 M118.50 591.50H116.50V605.50H120.80 M116.50 598.50H114.50V614.50H120.80 M114.50 606.50H113.50V622.50H120.80 M113.50 614.50H108.50V630.50H120.80 M108.50 622.50H104.50V638.50H120.80 M120.80 646.50H116.50V655.50H120.80 M116.50 650.50H110.50V663.50H120.80 M104.50 630.50H101.50V656.50H110.50 M120.80 671.50H106.50V679.50H120.80 M101.50 643.50H89.50V675.50H106.50 M120.80 688.50H115.50V696.50H120.80 M115.50 692.50H113.50V704.50H120.80 M113.50 698.50H110.50V712.50H120.80 M110.50 705.50H103.50V720.50H120.80 M103.50 712.50H97.50V729.50H120.80 M120.80 737.50H113.50V745.50H120.80 M113.50 741.50H111.50V753.50H120.80 M111.50 747.50H106.50V762.50H120.80 M97.50 720.50H83.50V754.50H106.50 M120.80 770.50H118.50V778.50H120.80 M118.50 774.50H114.50V786.50H120.80 M114.50 780.50H108.50V794.50H120.80 M108.50 787.50H99.50V803.50H120.80 M99.50 795.50H98.50V811.50H120.80 M83.50 737.50H74.50V803.50H98.50 M89.50 659.50H62.50V770.50H74.50 M120.80 827.50H112.50V836.50H120.80 M120.80 819.50H105.50V832.50H112.50 M120.80 852.50H117.50V860.50H120.80 M120.80 844.50H110.50V856.50H117.50 M120.80 893.50H120.50V901.50H120.80 M120.80 885.50H118.50V897.50H120.50 M120.80 877.50H114.50V891.50H118.50 M120.80 868.50H114.50V884.50H114.50 M110.50 850.50H102.50V876.50H114.50 M105.50 826.50H91.50V863.50H102.50 M62.50 714.50H31.50V844.50H91.50" stroke="#333" stroke-width="1" fill="none"/>
</svg></body></html>
